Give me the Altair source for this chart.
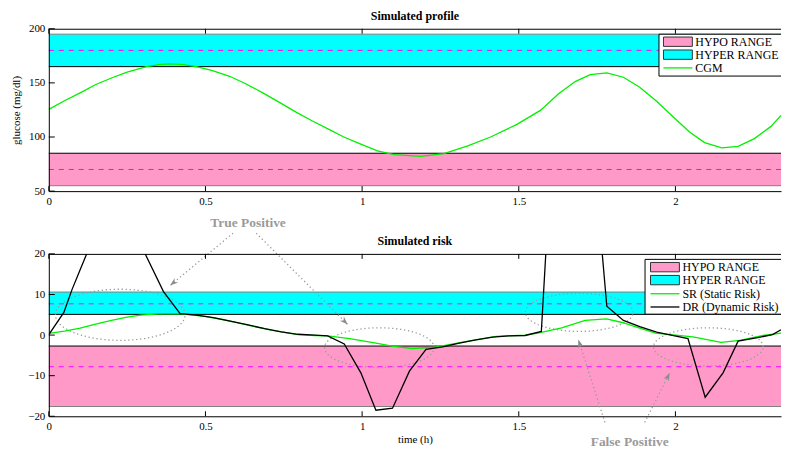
import math
import altair as alt
import numpy as np
import pandas as pd

# ---------------- data ----------------
t_cgm = [0.0, 0.05, 0.1, 0.15, 0.206, 0.25, 0.312, 0.35, 0.386, 0.43,
         0.47, 0.52, 0.577, 0.63, 0.683, 0.736, 0.789, 0.84, 0.894, 0.94,
         0.986, 1.049, 1.102, 1.187, 1.261, 1.335, 1.41, 1.494, 1.569, 1.627,
         1.68, 1.728, 1.781, 1.834, 1.886, 1.94, 1.993, 2.045, 2.093, 2.148,
         2.2, 2.252, 2.305, 2.337]
cgm = [125.5, 133.5, 140.8, 148.5, 155.2, 160.0, 165.0, 166.8, 167.5, 166.8,
       165.0, 161.5, 156.1, 149.0, 140.8, 132.0, 123.0, 115.0, 107.1, 100.2,
       94.5, 87.1, 83.8, 82.2, 84.7, 91.5, 100.0, 111.7, 124.6, 139.9,
       151.2, 157.7, 159.2, 155.2, 146.0, 133.1, 118.4, 104.6, 94.8, 89.9,
       91.4, 98.5, 109.8, 120.0]

t_sr = [0.0, 0.05, 0.1, 0.143, 0.2, 0.25, 0.293, 0.35, 0.412, 0.498,
        0.55, 0.604, 0.66, 0.71, 0.795, 0.85, 0.89, 0.96, 1.04, 1.1,
        1.159, 1.234, 1.339, 1.428, 1.52, 1.561, 1.637, 1.712, 1.78, 1.83,
        1.886, 1.936, 2.056, 2.146, 2.205, 2.28, 2.337]
sr = [0.4, 1.0, 1.7, 2.6, 3.6, 4.4, 4.9, 5.2, 5.3, 4.6,
      3.9, 3.0, 2.0, 1.2, 0.1, -0.1, -0.2, -0.9, -1.9, -2.8,
      -3.3, -3.0, -1.5, -0.3, 0.0, 0.5, 1.8, 3.6, 4.0, 3.1,
      1.7, 0.5, -0.45, -1.8, -1.3, -0.1, 0.5]

t_dr = [0.0, 0.048, 0.074, 0.1, 0.153, 0.206, 0.259, 0.312, 0.366, 0.419,
        0.472, 0.525, 0.583, 0.636, 0.689, 0.742, 0.795, 0.848, 0.89, 0.943,
        0.996, 1.044, 1.097, 1.151, 1.204, 1.257, 1.31, 1.363, 1.416, 1.469,
        1.52, 1.572, 1.622, 1.675, 1.728, 1.781, 1.834, 1.886, 1.94, 1.99,
        2.04, 2.095, 2.152, 2.2, 2.258, 2.31, 2.337]
dr = [0.1, 5.6, 11.2, 16.1, 26.0, 30.0, 28.0, 19.3, 10.7, 5.3,
      4.9, 4.3, 3.4, 2.5, 1.6, 0.8, 0.2, 0.0, -0.2, -2.2,
      -9.3, -18.5, -18.0, -8.9, -3.5, -2.9, -2.0, -1.2, -0.5, -0.2,
      -0.1, 0.9, 68.0, 70.0, 54.0, 7.1, 3.6, 2.1, 0.7, -0.1,
      -0.86, -15.3, -9.3, -1.5, -0.7, 0.1, 1.3]

# ranges (glucose, mg/dl) and their risk equivalents
hypo_g = [55, 85]
hyper_g = [165, 195]
target_g = [70, 180]
hypo_r = [-17.6, -2.7]
hyper_r = [5.1, 10.6]
target_r = [-7.8, 7.7]

x_ticks = [0, 0.5, 1, 1.5, 2]
glu_ticks = [50, 100, 150, 200]
risk_ticks = [-20, -10, 0, 10, 20]
x_max = 2.337

# annotations (bottom panel, data units)
ell_t = [0.228, 1.055, 1.693, 2.105]
ell_r = [5.0, -3.1, 5.6, -2.9]
ell_w = [0.207, 0.175, 0.172, 0.175]
ell_h = [6.3, 4.9, 4.7, 4.7]

arr_t0 = [0.588, 0.662, 1.775, 1.902]
arr_r0 = [25.1, 25.1, -21.5, -21.5]
arr_t1 = [0.387, 0.954, 1.690, 1.982]
arr_r1 = [12.2, 2.6, -1.1, -9.3]

note_text = ["True Positive", "False Positive"]
note_t = [0.636, 1.854]
note_r = [27.7, -26.3]

# ---------------- style ----------------
FONT = "Liberation Serif"
PINK = "#FF99C8"
CYAN = "#00FFFF"
GREEN = "#00F000"
MAGENTA = "#FF00FF"
NOTE_GRAY = "#9A9A9A"
EDGE_GRAY = "#808080"
W, H = 735, 163

xscale = alt.Scale(domain=[0, x_max], nice=False, zero=False)


def x_axis(title):
    return alt.Axis(values=x_ticks, format="~f", ticks=False, tickSize=0,
                    labelPadding=4, grid=False, domain=True, domainColor="black",
                    zindex=1, labelFlush=False, title=title, titlePadding=2,
                    titleFontWeight="normal")


def y_axis(values, title):
    return alt.Axis(values=values, format="~f", ticks=False, tickSize=0,
                    labelPadding=4, grid=False, domain=True, domainColor="black",
                    zindex=1, title=title, titlePadding=7,
                    titleFontWeight="normal")


ONE = pd.DataFrame({"a": [0]})


def px_rule(x1, x2, y1, y2=None, color="black", width=1.0):
    enc = dict(x=alt.value(x1), x2=alt.value(x2), y=alt.value(y1))
    if y2 is not None:
        enc["y2"] = alt.value(y2)
    return alt.Chart(ONE).mark_rule(color=color, strokeWidth=width).encode(**enc)


def px_rect(x1, x2, y1, y2, fill, stroke=None):
    kw = dict(fill=fill, opacity=1)
    if stroke:
        kw.update(stroke=stroke, strokeWidth=1)
    return alt.Chart(ONE).mark_rect(**kw).encode(
        x=alt.value(x1), x2=alt.value(x2), y=alt.value(y1), y2=alt.value(y2))


def px_text(x, y, txt, size=12, weight="normal", align="left"):
    return alt.Chart(ONE).mark_text(text=txt, align=align, baseline="middle",
                                    font=FONT, fontSize=size, fontWeight=weight,
                                    color="black").encode(
        x=alt.value(x), y=alt.value(y))


def legend(box_x, box_y0, box_y1, sw_x0, sw_x1, text_x, rows):
    layers = [px_rect(box_x, W, box_y0, box_y1, "white"),
              px_rule(box_x, W, box_y0),
              px_rule(box_x, W, box_y1),
              px_rule(box_x, box_x, box_y0, box_y1)]
    for label, kind, color, yc in rows:
        if kind == "rect":
            layers.append(px_rect(sw_x0, sw_x1, yc - 4.7, yc + 4.7, color, stroke="#333333"))
        else:
            layers.append(px_rule(sw_x0, sw_x1, yc, color=color, width=1.3))
        layers.append(px_text(text_x, yc, label))
    return layers


def frame_layers(ydom, yticks, yaxis, xaxis, bands_lohi, targets):
    yscale = alt.Scale(domain=ydom, nice=False, zero=False)

    def X(f):
        return alt.X(f, type="quantitative", scale=xscale, axis=xaxis)

    def Y(f):
        return alt.Y(f, type="quantitative", scale=yscale, axis=yaxis)

    (hypo, hyper) = bands_lohi
    layers = []
    for (lo, hi), fill in ((hypo, PINK), (hyper, CYAN)):
        bdf = pd.DataFrame({"x0": [0], "x1": [x_max], "lo": [lo], "hi": [hi]})
        layers.append(alt.Chart(bdf).mark_rect(fill=fill, opacity=1).encode(
            x=X("x0"), x2="x1", y=Y("lo"), y2="hi"))
    tgt_df = pd.DataFrame({"x0": [0, 0], "x1": [x_max, x_max], "y": targets})
    layers.append(alt.Chart(tgt_df).mark_rule(color=MAGENTA, strokeDash=[5, 5],
                                              strokeWidth=1).encode(
        x=X("x0"), x2="x1", y=Y("y")))
    outer = pd.DataFrame({"x0": [0, 0], "x1": [x_max, x_max], "y": [hypo[0], hyper[1]]})
    inner = pd.DataFrame({"x0": [0, 0], "x1": [x_max, x_max], "y": [hypo[1], hyper[0]]})
    layers.append(alt.Chart(outer).mark_rule(color=EDGE_GRAY, strokeWidth=1).encode(
        x=X("x0"), x2="x1", y=Y("y")))
    layers.append(alt.Chart(inner).mark_rule(color="black", strokeWidth=1).encode(
        x=X("x0"), x2="x1", y=Y("y")))

    xt = pd.DataFrame({"t": x_ticks})
    yt = pd.DataFrame({"v": yticks})
    front = [
        alt.Chart(xt).mark_rule(color="black").encode(x=X("t"), y=alt.value(H), y2=alt.value(H - 5)),
        alt.Chart(xt).mark_rule(color="black").encode(x=X("t"), y=alt.value(0), y2=alt.value(5)),
        alt.Chart(yt).mark_rule(color="black").encode(y=Y("v"), x=alt.value(0), x2=alt.value(6)),
        px_rule(0, W, 0.5),
    ]
    return X, Y, layers, front


def panel_title(txt):
    return px_text(W / 2, -12.5, txt, size=12, weight="bold", align="center")


# ---------------- top panel ----------------
XA_top = x_axis(None)
YA_top = y_axis(glu_ticks, "glucose (mg/dl)")
Xt, Yt, back_t, front_t = frame_layers([50, 200], glu_ticks, YA_top, XA_top,
                                       (hypo_g, hyper_g), target_g)
cgm_df = pd.DataFrame({"t": t_cgm, "g": cgm})
cgm_line = alt.Chart(cgm_df).mark_line(color=GREEN, strokeWidth=1.3).encode(
    x=Xt("t"), y=Yt("g"))

leg_top = legend(612.5, 5.5, 47.5, 617, 646, 649,
                 [("HYPO RANGE", "rect", PINK, 13),
                  ("HYPER RANGE", "rect", CYAN, 26),
                  ("CGM", "line", GREEN, 39.3)])

top = alt.layer(*back_t, cgm_line, *front_t, *leg_top,
                panel_title("Simulated profile")).properties(width=W, height=H)

# ---------------- bottom panel ----------------
XA_bot = x_axis("time (h)")
YA_bot = y_axis(risk_ticks, None)
Xb, Yb, back_b, front_b = frame_layers([-20, 20], risk_ticks, YA_bot, XA_bot,
                                       (hypo_r, hyper_r), target_r)

sr_df = pd.DataFrame({"t": t_sr, "r": sr})
dr_df = pd.DataFrame({"t": t_dr, "r": dr})
sr_line = alt.Chart(sr_df).mark_line(color=GREEN, strokeWidth=1.3, clip=True).encode(
    x=Xb("t"), y=Yb("r"))
dr_line = alt.Chart(dr_df).mark_line(color="black", strokeWidth=1.3, clip=True).encode(
    x=Xb("t"), y=Yb("r"))

# dotted ellipses
rows = []
theta = np.linspace(0, 2 * np.pi, 81)
for i in range(len(ell_t)):
    for k, th in enumerate(theta):
        rows.append({"id": i, "k": k,
                     "t": ell_t[i] + ell_w[i] * math.cos(th),
                     "r": ell_r[i] + ell_h[i] * math.sin(th)})
ell_df = pd.DataFrame(rows)
ellipses = alt.Chart(ell_df).mark_line(color=NOTE_GRAY, strokeWidth=1.3,
                                       strokeDash=[1.3, 2.7]).encode(
    x=Xb("t"), y=Yb("r"), detail="id:N", order="k:Q")

# arrows
sx = W / x_max
sy = H / 40.0
angles = []
for a0, b0, a1, b1 in zip(arr_t0, arr_r0, arr_t1, arr_r1):
    ang = math.degrees(math.atan2((a1 - a0) * sx, (b1 - b0) * sy)) % 360
    angles.append(ang)
arr_df = pd.DataFrame({"t0": arr_t0, "r0": arr_r0, "t1": arr_t1, "r1": arr_r1, "ang": angles})
arrow_lines = alt.Chart(arr_df).mark_rule(color=NOTE_GRAY, strokeWidth=1.3,
                                          strokeDash=[1.3, 2.7]).encode(
    x=Xb("t0"), y=Yb("r0"), x2="t1", y2="r1")
ARROW = "M0,0L0.55,1.6L0,1.1L-0.55,1.6Z"
arrow_heads = alt.Chart(arr_df).mark_point(shape=ARROW, filled=True, color="#8C8C8C",
                                           size=110, opacity=1).encode(
    x=Xb("t1"), y=Yb("r1"), angle=alt.Angle("ang:Q", scale=None))

note_df = pd.DataFrame({"t": note_t, "r": note_r, "label": note_text})
notes = alt.Chart(note_df).mark_text(font=FONT, fontSize=13.5, fontWeight="bold",
                                     color=NOTE_GRAY, baseline="middle").encode(
    x=Xb("t"), y=Yb("r"), text="label:N")

leg_bot = legend(598.5, 5.5, 60.5, 604, 633, 636,
                 [("HYPO RANGE", "rect", PINK, 13.3),
                  ("HYPER RANGE", "rect", CYAN, 26.3),
                  ("SR (Static Risk)", "line", GREEN, 40),
                  ("DR (Dynamic Risk)", "line", "black", 53.3)])

bottom = alt.layer(*back_b, ellipses, sr_line, dr_line, arrow_lines, arrow_heads,
                   notes, *front_b, *leg_bot,
                   panel_title("Simulated risk")).properties(width=W, height=H)

chart = alt.vconcat(top, bottom, spacing=63, bounds="flush").properties(
    padding={"left": 10, "top": 9, "right": 0, "bottom": 0}
).configure_view(stroke="transparent").configure_axis(
    labelFont=FONT, labelFontSize=11, labelColor="black",
    titleFont=FONT, titleFontSize=11, titleColor="black"
)

chart.save("out.html", embed_options={"renderer": "svg", "actions": False})
